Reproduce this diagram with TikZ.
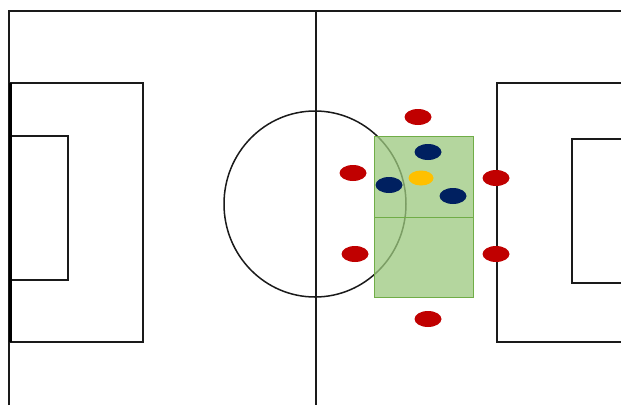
\documentclass[tikz,border=0pt]{standalone}
\usetikzlibrary{shapes.geometric}
\definecolor{redp}{HTML}{C00000}
\definecolor{bluep}{HTML}{002060}
\definecolor{yellowp}{HTML}{FFC000}
\definecolor{zonefill}{HTML}{9CC97E}
\definecolor{zoneline}{HTML}{70AD47}
\definecolor{fieldline}{HTML}{1A1A1A}
\tikzset{
  fld/.style={draw=fieldline, line width=1.6pt},
  player/.style={ellipse, minimum width=27pt, minimum height=16pt, inner sep=0pt},
  redpl/.style={player, fill=redp},
  bluepl/.style={player, fill=bluep},
  yellowpl/.style={player, fill=yellowp, minimum width=25pt, minimum height=15pt},
}
\begin{document}
\begin{tikzpicture}[x=1pt,y=-1pt]
\useasboundingbox[fill=white] (0,0) rectangle (621,405);
% outer lines
\draw[fld] (9,405) -- (9,11) -- (621,11);
\draw[fld] (316,11) -- (316,405);
% left penalty area and goal area
\draw[fld] (9,83) rectangle (143,342);
\draw[fld] (9,136) rectangle (68,280);
\draw[draw=black, line width=3pt] (10,83) -- (10,342);
% right penalty area and goal area
\draw[fld] (621,83) -- (497,83) -- (497,342) -- (621,342);
\draw[fld] (621,139) -- (572,139) -- (572,283) -- (621,283);
% centre circle
\draw[draw=fieldline, line width=1.5pt] (315,204) ellipse [x radius=91, y radius=93];
% zone
\draw[fill=zonefill, fill opacity=0.75, draw=zoneline, line width=1pt] (374,136) rectangle (473,297);
\draw[draw=zoneline, line width=1pt] (374,217) -- (473,217);
% players
\node[redpl] (r1) at (418,117) {};
\node[redpl] (r2) at (353,173) {};
\node[redpl] (r3) at (355,254) {};
\node[redpl] (r4) at (428,319) {};
\node[redpl] (r5) at (496,178) {};
\node[redpl] (r6) at (496,254) {};
\node[bluepl] (b1) at (428,152) {};
\node[bluepl] (b2) at (389,185) {};
\node[bluepl] (b3) at (453,196) {};
\node[yellowpl] (y1) at (421,178) {};
\end{tikzpicture}
\end{document}
